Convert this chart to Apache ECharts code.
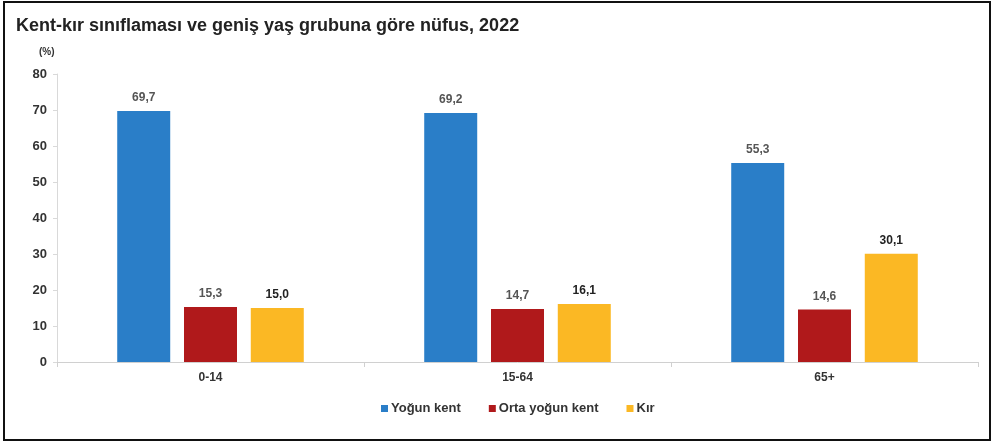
<!DOCTYPE html>
<html><head><meta charset="utf-8">
<script src="https://cdn.jsdelivr.net/npm/echarts@6/dist/echarts.min.js"></script>
<style>html,body{margin:0;padding:0;background:#fff}#c{width:996px;height:445px}</style>
</head><body><div id="c"></div>
<script>
const categories = ['0-14', '15-64', '65+'];
const yogunKent = [69.7, 69.2, 55.3];
const ortaYogunKent = [15.3, 14.7, 14.6];
const kir = [15.0, 16.1, 30.1];
const seriesNames = ['Yoğun kent', 'Orta yoğun kent', 'Kır'];
const yTicks = [0, 10, 20, 30, 40, 50, 60, 70, 80];

const chart = echarts.init(document.getElementById('c'), null, {renderer: 'canvas'});
const fmt = p => p.value.toFixed(1).replace('.', ',');
function mk(name, data, color, labelColor) {
  return {
    name, type: 'bar', data, barWidth: 53, barGap: '26%',
    itemStyle: {color},
    label: {show: true, position: 'top', distance: 7, formatter: fmt,
      fontFamily: 'Liberation Sans, Arial', fontWeight: 'bold', fontSize: 12, color: labelColor}
  };
}
chart.setOption({
  animation: false,
  title: {text: 'Kent-kır sınıflaması ve geniş yaş grubuna göre nüfus, 2022', left: 11, top: 12,
    textStyle: {fontFamily: 'Liberation Sans, Arial', fontWeight: 'bold', fontSize: 18, color: '#222'}},
  graphic: [
    {type: 'rect', shape: {x: 4, y: 2, width: 986, height: 438}, style: {fill: 'none', stroke: '#111', lineWidth: 2}},
    {type: 'text', left: 39, top: 47, style: {text: '(%)', fontFamily: 'Liberation Sans, Arial', fontWeight: 'bold', fontSize: 10, fill: '#333'}}
  ],
  legend: {bottom: 25, left: 376, itemWidth: 7, itemHeight: 7, itemGap: 28, icon: 'rect',
    textStyle: {fontFamily: 'Liberation Sans, Arial', fontWeight: 'bold', fontSize: 13, color: '#333', padding: [0,0,0,-2]},
    data: seriesNames},
  grid: {left: 57, right: 18, top: 74, bottom: 83},
  xAxis: {type: 'category', data: categories,
    axisLine: {lineStyle: {color: '#d0d0d0'}},
    axisTick: {show: true, length: 5, lineStyle: {color: '#d0d0d0'}},
    axisLabel: {margin: 10, fontFamily: 'Liberation Sans, Arial', fontWeight: 'bold', fontSize: 12, color: '#333'}},
  yAxis: {type: 'value', min: 0, max: 80, interval: 10,
    axisLine: {show: true, lineStyle: {color: '#d9d9d9'}},
    axisTick: {show: true, length: 4, lineStyle: {color: '#d9d9d9'}},
    splitLine: {show: false},
    axisLabel: {margin: 10, fontFamily: 'Liberation Sans, Arial', fontWeight: 'bold', fontSize: 13, color: '#333',
      formatter: v => yTicks.includes(v) ? String(v) : ''}},
  series: [
    mk(seriesNames[0], yogunKent, '#2a7ec8', '#555'),
    mk(seriesNames[1], ortaYogunKent, '#b0191b', '#555'),
    mk(seriesNames[2], kir, '#fbb824', '#222')
  ]
});
</script></body></html>
